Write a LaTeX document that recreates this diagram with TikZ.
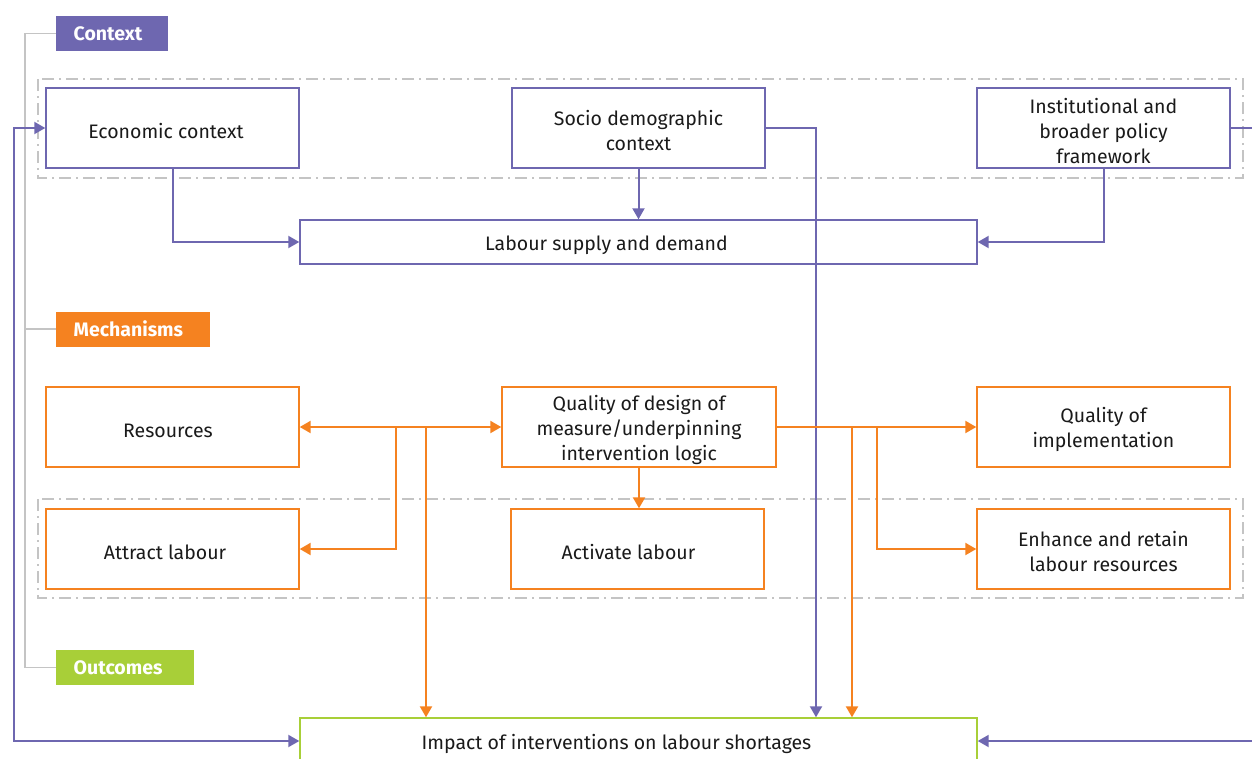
\documentclass[tikz,border=0pt]{standalone}
\usepackage{fontspec}
\setmainfont{Fira Sans}
\usetikzlibrary{arrows.meta}
\definecolor{ctx}{HTML}{6E67B0}
\definecolor{mech}{HTML}{F58220}
\definecolor{outc}{HTML}{A8CF38}
\definecolor{grp}{HTML}{C4C4C4}
\definecolor{txt}{HTML}{1A1A1A}
\newcommand\tup{\rule{0pt}{21pt}}
\tikzset{
  box/.style={draw, line width=1.4pt, fill=white, text=txt, align=center,
    font=\fontsize{19.5}{25}\selectfont, inner sep=2pt},
  cbox/.style={box, draw=ctx, minimum width=253pt, minimum height=80pt},
  mbox/.style={box, draw=mech, minimum width=253pt, minimum height=80pt},
  tag/.style={anchor=west, text=white, inner xsep=17.5pt, inner ysep=0pt,
    minimum height=35pt, align=left, font=\fontsize{19.5}{22}\selectfont\bfseries},
  grpframe/.style={draw=grp, line width=1.3pt, dash pattern=on 12pt off 5pt on 2pt off 5pt},
  bracket/.style={draw=grp, line width=1.3pt},
  tip/.style={-{Triangle[length=11pt,width=12pt]}},
  dtip/.style={{Triangle[length=11pt,width=12pt]}-{Triangle[length=11pt,width=12pt]}},
  pline/.style={draw=ctx, line width=2pt},
  oline/.style={draw=mech, line width=2.2pt},
}
\begin{document}
\begin{tikzpicture}[x=1pt,y=-1pt]
\useasboundingbox (0,0) rectangle (1252,758);
% group frames
\draw[grpframe] (38,79) rectangle (1243,178);
\draw[grpframe] (38,499) rectangle (1243,598);
% tags
\node[tag, fill=ctx, text width=77pt] (ctxlab) at (56,33.5) {Context};
\node[tag, fill=mech, text width=119pt] (mechlab) at (56,329) {Mechanisms};
\node[tag, fill=outc, text width=103pt] (outlab) at (56,667.5) {Outcomes};
\draw[bracket] (ctxlab.west) -- ++(-31,0) |- (outlab.west);
\draw[bracket] (mechlab.west) -- ++(-31,0);
% context boxes
\node[cbox] (econ) at (172.5,128) {\tup Economic context\hspace*{13pt}};
\node[cbox] (socio) at (638.5,128) {\tup Socio demographic\\context};
\node[cbox] (inst) at (1103.5,128) {\tup Institutional and\\broader policy\\framework};
\node[box, draw=ctx, minimum width=677pt, minimum height=44pt] (labour) at (638.5,242) {\tup Labour supply and demand\hspace*{64pt}};
% mechanism boxes
\node[mbox] (res) at (172.5,427) {\tup Resources\hspace*{9pt}};
\node[mbox, minimum width=274pt] (design) at (639,427) {\tup Quality of design of\\measure/underpinning\\intervention logic};
\node[mbox] (impl) at (1103.5,427) {\tup Quality of\\implementation};
\node[mbox] (attract) at (172.5,549) {\tup Attract labour\hspace*{15pt}};
\node[mbox] (activate) at (637.5,549) {\tup Activate labour\hspace*{18pt}};
\node[mbox] (enhance) at (1103.5,549) {\tup Enhance and retain\\labour resources};
% outcome box
\node[box, draw=outc, minimum width=677pt, minimum height=46pt] (impact) at (638.5,741) {\tup Impact of interventions on labour shortages\hspace*{44pt}};
% helper coordinates
\coordinate (lx) at (14,0);
\coordinate (rx) at (1252,0);
\coordinate (sx) at (816,0);
\coordinate (o1) at (396,0);
\coordinate (o2) at (426,0);
\coordinate (o3) at (852,0);
\coordinate (o4) at (877,0);
% purple connectors
\draw[pline, tip] (econ.south) |- (labour.west);
\draw[pline, tip] (socio.south) -- (labour.north);
\draw[pline, tip] (inst.south) |- (labour.east);
\draw[pline, tip] (socio.east) -| (impact.north -| sx);
\draw[pline, dtip] (econ.west) -- (econ.west -| lx) -- (impact.west -| lx) -- (impact.west);
\draw[pline] (inst.east) -- (inst.east -| rx);
\draw[pline, tip] (impact.east -| rx) -- (impact.east);
% orange connectors
\draw[oline, dtip] (res.east) -- (design.west);
\draw[oline, tip] (res.east -| o1) |- (attract.east);
\draw[oline, tip] (res.east -| o2) -- (impact.north -| o2);
\draw[oline, tip] (design.south) -- (design.south |- activate.north);
\draw[oline, tip] (design.east) -- (impl.west);
\draw[oline, tip] (design.east -| o3) -- (impact.north -| o3);
\draw[oline, tip] (design.east -| o4) |- (enhance.west);
\end{tikzpicture}
\end{document}
